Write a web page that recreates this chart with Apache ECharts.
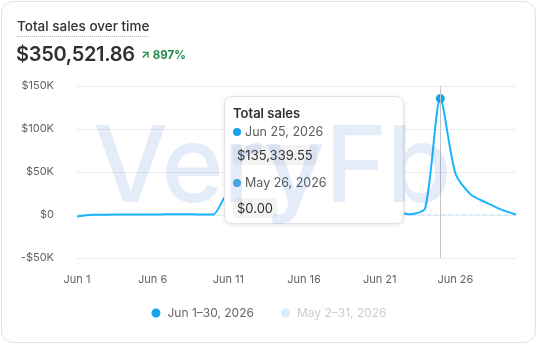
<!DOCTYPE html>
<html>
<head>
<meta charset="utf-8">
<script src="https://cdn.jsdelivr.net/npm/echarts@6/dist/echarts.min.js"></script>
<style>
  html, body { margin:0; padding:0; width:538px; height:346px; background:#fff; overflow:hidden; font-family: Inter, "Noto Sans", sans-serif; }
  #card { position:absolute; left:1px; top:1px; width:535px; height:342px; border:1px solid #e3e3e3; border-radius:12px; box-sizing:border-box; background:#fff; }
  #title { position:absolute; left:17px; top:17px; font-size:13.5px; font-weight:500; color:#303030; line-height:18px; border-bottom:1.5px dotted #b8b8b8; padding-bottom:1px; }
  #total { position:absolute; left:16px; top:41px; font-size:20px; font-weight:600; color:#303030; line-height:26px; letter-spacing:-0.3px; }
  #change { position:absolute; left:141px; top:48px; font-size:11.5px; font-weight:700; color:#1f8a4c; line-height:14px; }
  #chart { position:absolute; left:0; top:0; width:538px; height:346px; }
  #wm { position:absolute; left:93px; top:99px; font-size:106px; font-weight:500; color:rgba(45,95,205,0.12); letter-spacing:-1px; pointer-events:none; z-index:2147483647; line-height:130px; }
</style>
</head>
<body>
<div id="card"></div>
<div id="chart"></div>
<div id="title">Total sales over time</div>
<div id="total">$350,521.86</div>
<div id="change">&#8599; 897%</div>
<div id="wm">VeryFb</div>
<script>
// ---- data ----
var dayLabels = ["Jun 1","Jun 2","Jun 3","Jun 4","Jun 5","Jun 6","Jun 7","Jun 8","Jun 9","Jun 10",
  "Jun 11","Jun 12","Jun 13","Jun 14","Jun 15","Jun 16","Jun 17","Jun 18","Jun 19","Jun 20",
  "Jun 21","Jun 22","Jun 23","Jun 24","Jun 25","Jun 26","Jun 27","Jun 28","Jun 29","Jun 30"];
var currentDates = dayLabels.map(function(d){ return d + ", 2026"; });
var previousDates = ["May 2, 2026","May 3, 2026","May 4, 2026","May 5, 2026","May 6, 2026","May 7, 2026","May 8, 2026","May 9, 2026","May 10, 2026","May 11, 2026",
  "May 12, 2026","May 13, 2026","May 14, 2026","May 15, 2026","May 16, 2026","May 17, 2026","May 18, 2026","May 19, 2026","May 20, 2026","May 21, 2026",
  "May 22, 2026","May 23, 2026","May 24, 2026","May 25, 2026","May 26, 2026","May 27, 2026","May 28, 2026","May 29, 2026","May 30, 2026","May 31, 2026"];
var currentSales = [-1800, 200, 400, 500, 500, 600, 800, 900, 700, 600,
  25000, 18000, 12000, 9000, 7000, 6000, 5500, 6000, 5000, 4500,
  4000, 3800, 1000, 7800, 135339.55, 48300, 24000, 14700, 6600, 500];
var previousSales = [0,0,0,0,0,0,0,0,0,0, 0,0,0,0,0,0,0,0,0,0, 0,0,0,0,0,0,0,0,0,0];
var yTicks = { min: -50000, max: 150000, interval: 50000 };
var legendNames = ["Jun 1\u201330, 2026", "May 2\u201331, 2026"];
var highlightIndex = 24;

function money(v){
  return "$" + v.toLocaleString("en-US", {minimumFractionDigits:2, maximumFractionDigits:2});
}
function kLabel(v){
  if (v === 0) return "$0";
  return (v < 0 ? "-$" : "$") + Math.abs(v/1000) + "K";
}

var mainColor = "#16a4ec";
var prevColor = "#cfe9f7";

var chart = echarts.init(document.getElementById("chart"), null, {renderer:"canvas"});
chart.setOption({
  animation: false,
  textStyle: { fontFamily: "Inter, 'Noto Sans', sans-serif" },
  grid: { left: 77, right: 22, top: 86, bottom: 88, containLabel: false },
  xAxis: {
    type: "category",
    data: dayLabels,
    boundaryGap: false,
    axisLine: { show: false },
    axisTick: { show: false },
    axisLabel: { interval: 4, color: "#616161", fontSize: 11, margin: 16 },
    splitLine: { show: false },
    axisPointer: { show: true, type: "line", label: { show: false }, lineStyle: { color: "#c4c4c4", width: 1, type: "solid" } }
  },
  yAxis: {
    type: "value",
    min: yTicks.min, max: yTicks.max, interval: yTicks.interval,
    axisLine: { show: false },
    axisTick: { show: false },
    axisLabel: { color: "#616161", fontSize: 11, margin: 23, formatter: kLabel },
    splitLine: { lineStyle: { color: "#ececec", width: 1 } }
  },
  legend: {
    bottom: 22, left: "center",
    icon: "circle", itemWidth: 9, itemHeight: 9, itemGap: 27,
    selectedMode: false,
    textStyle: { fontSize: 12, padding: [0,0,0,2] },
    data: [
      { name: legendNames[0], itemStyle: { color: mainColor }, textStyle: { color: "#666666" } },
      { name: legendNames[1], itemStyle: { color: "#d6ecf8" }, textStyle: { color: "#cccccc" } }
    ]
  },
  tooltip: {
    trigger: "axis",
    triggerOn: "none",
    alwaysShowContent: true,
    position: [224, 96],
    backgroundColor: "#ffffff",
    borderColor: "#e2e2e2",
    borderWidth: 1,
    padding: 0,
    transitionDuration: 0,
    extraCssText: "border-radius:8px;box-shadow:0 1px 4px rgba(0,0,0,0.10);width:180px;height:128px;box-sizing:border-box;",
    formatter: function(params){
      var cur = null, prev = null;
      params.forEach(function(p){ if (p.seriesIndex === 0) cur = p; else prev = p; });
      var i = cur.dataIndex;
      var h = '<div style="padding:8px 8px 0 8px;font-family:Inter,sans-serif;">';
      h += '<div style="font-size:13px;font-weight:600;color:#303030;line-height:16px;">Total sales</div>';
      h += '<div style="margin-top:3px;height:16px;line-height:16px;font-size:12.5px;color:#5c5c5c;white-space:nowrap;">' +
           '<span style="display:inline-block;width:8px;height:8px;border-radius:4px;background:' + mainColor + ';margin-right:4px;vertical-align:0px;"></span>' +
           currentDates[i] + '</div>';
      h += '<div style="margin-top:5px;display:inline-block;background:#f3f3f3;border-radius:4px;padding:0 4px;height:20px;line-height:20px;font-size:13px;color:#303030;">' + money(currentSales[i]) + '</div>';
      h += '<div style="margin-top:10px;height:16px;line-height:16px;font-size:12.5px;color:#5c5c5c;white-space:nowrap;">' +
           '<span style="display:inline-block;width:8px;height:8px;border-radius:4px;background:#4aaee2;margin-right:4px;vertical-align:0px;"></span>' +
           previousDates[i] + '</div>';
      h += '<div style="margin-top:7px;display:inline-block;background:#f3f3f3;border-radius:4px;padding:0 4px;height:20px;line-height:20px;font-size:13px;color:#303030;">' + money(previousSales[i]) + '</div>';
      h += '</div>';
      return h;
    }
  },
  series: [
    {
      name: legendNames[0],
      type: "line",
      data: currentSales,
      smooth: 0.25,
      showSymbol: false,
      symbol: "circle",
      symbolSize: 9,
      itemStyle: { color: mainColor },
      lineStyle: { color: mainColor, width: 2 },
      emphasis: { scale: false, itemStyle: { color: mainColor, borderWidth: 0 }, lineStyle: { width: 2 } },
      z: 3
    },
    {
      name: legendNames[1],
      type: "line",
      data: previousSales,
      smooth: true,
      symbol: "none",
      itemStyle: { color: "#d6ecf8" },
      lineStyle: { color: prevColor, width: 1.5, type: [4, 3] },
      emphasis: { disabled: true },
      z: 2
    }
  ]
});
chart.dispatchAction({ type: "showTip", seriesIndex: 0, dataIndex: highlightIndex });
</script>
</body>
</html>
